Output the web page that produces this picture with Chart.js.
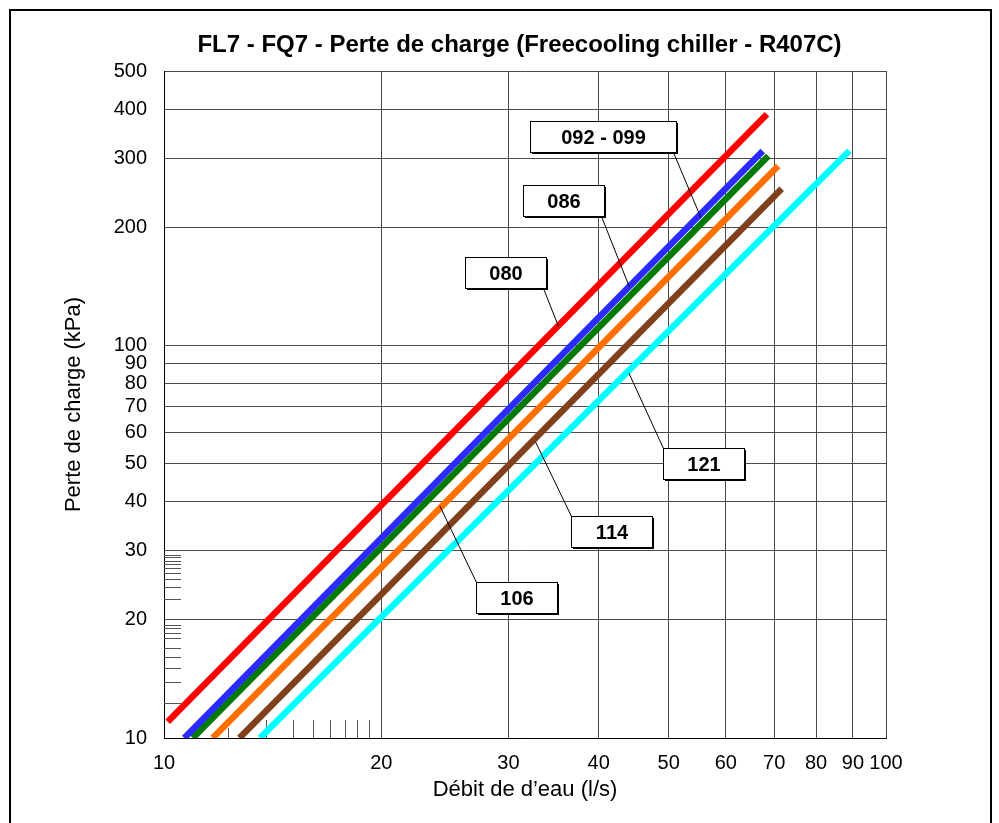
<!DOCTYPE html>
<html>
<head>
<meta charset="utf-8">
<title>FL7 - FQ7 - Perte de charge</title>
<script src="https://cdn.jsdelivr.net/npm/chart.js@4.4.1/dist/chart.umd.min.js"></script>
<style>
  body { margin: 0; background: #fff; }
  canvas { display: block; }
</style>
</head>
<body>
<canvas id="chart" width="999" height="823"></canvas>
<script>
// courbes débit (l/s) -> perte de charge (kPa) : droites en log-log, deux points par modèle
const models = ["080", "086", "092 - 099", "106", "114", "121"];
const flowStart = [10.12, 10.67, 10.96, 11.68, 12.72, 13.58];
const lossStart = [11.0, 10, 10, 10, 10, 10];
const flowEnd = [68.4, 67.5, 68.7, 70.9, 71.7, 89.0];
const lossEnd = [387.9, 312.6, 303.7, 286.4, 250.7, 313.3];
const colors = ["#ff0000", "#2b2bff", "#007a00", "#ff6f00", "#80401c", "#00ffff"];

const xTicks = [10, 20, 30, 40, 50, 60, 70, 80, 90, 100];
const yTicks = [10, 20, 30, 40, 50, 60, 70, 80, 90, 100, 200, 300, 400, 500];

// étiquettes : centre de la boîte et point visé par le trait de rappel
const tagFlow = [29.7, 35.7, 40.56, 30.76, 41.7, 55.9];
const tagLoss = [153.6, 233.9, 340.5, 22.84, 33.5, 50.0];
const tipFlow = [35.2, 44.1, 55.44, 24.1, 32.7, 44.06];
const tipLoss = [111.6, 141.1, 211.1, 39.0, 56.8, 84.9];

// petits traits le long des axes (restes du graphique d'origine)
const minorFlow = [12.25, 13.84, 15.08, 16.10, 16.98, 17.81, 18.53, 19.23];
const minorLoss = [29.25, 28.86, 28.29, 27.75, 27.05, 26.37, 25.37, 24.21, 22.55,
                   19.40, 19.03, 18.48, 17.95, 16.98, 16.05, 15.05, 13.91, 12.26];

const family = '"Liberation Sans", Arial, sans-serif';

const datasets = models.map((m, i) => ({
    label: m,
    data: [{ x: flowStart[i], y: lossStart[i] }, { x: flowEnd[i], y: lossEnd[i] }],
    borderColor: colors[i],
    backgroundColor: colors[i],
    borderWidth: 6.5,
    pointRadius: 0,
    fill: false,
    tension: 0
}));

const frame = {
    id: "frame",
    beforeDraw(chart) {
        const ctx = chart.ctx;
        ctx.save();
        ctx.fillStyle = "#fff";
        ctx.fillRect(0, 0, chart.width, chart.height);
        ctx.restore();
    },
    afterDraw(chart) {
        const ctx = chart.ctx;
        ctx.save();
        ctx.strokeStyle = "#000";
        ctx.lineWidth = 2;
        ctx.strokeRect(10, 10, 981, 840);
        ctx.restore();
    }
};

const minorTicks = {
    id: "minorTicks",
    beforeDatasetsDraw(chart) {
        const { ctx, chartArea, scales: { x, y } } = chart;
        ctx.save();
        ctx.strokeStyle = "#555";
        ctx.lineWidth = 1;
        ctx.beginPath();
        minorLoss.forEach(v => {
            const py = Math.round(y.getPixelForValue(v)) + 0.5;
            ctx.moveTo(chartArea.left, py);
            ctx.lineTo(chartArea.left + 17, py);
        });
        minorFlow.forEach((v, i) => {
            const px = Math.round(x.getPixelForValue(v)) + 0.5;
            ctx.moveTo(px, chartArea.bottom);
            ctx.lineTo(px, chartArea.bottom - (i === 0 ? 10 : 18));
        });
        ctx.stroke();
        ctx.restore();
    }
};

const tags = {
    id: "tags",
    afterDatasetsDraw(chart) {
        const { ctx, scales: { x, y } } = chart;
        ctx.save();
        ctx.font = "bold 20px " + family;
        ctx.textAlign = "center";
        ctx.textBaseline = "middle";
        models.forEach((m, i) => {
            const cx = x.getPixelForValue(tagFlow[i]);
            const cy = y.getPixelForValue(tagLoss[i]);
            const tx = x.getPixelForValue(tipFlow[i]);
            const ty = y.getPixelForValue(tipLoss[i]);
            const w = m.length > 3 ? 146 : 81, h = 31;
            const left = Math.round(cx - w / 2) + 0.5;
            const top = Math.round(cy - h / 2) + 0.5;
            const above = ty < top;
            const sx = above ? left : left + w - 3;
            const sy = above ? top : top + h;

            ctx.strokeStyle = "#000";
            ctx.lineWidth = 1;
            ctx.beginPath();
            ctx.moveTo(sx, sy);
            ctx.lineTo(tx, ty);
            ctx.stroke();

            ctx.fillStyle = "#000";
            ctx.fillRect(left + 1.5, top + 1.5, w, h);
            ctx.fillStyle = "#fff";
            ctx.fillRect(left, top, w, h);
            ctx.strokeRect(left, top, w, h);

            ctx.fillStyle = "#000";
            ctx.fillText(m, left + w / 2, top + h / 2 + 1);
        });
        ctx.restore();
    }
};

new Chart(document.getElementById("chart"), {
    type: "line",
    data: { datasets: datasets },
    options: {
        responsive: false,
        animation: false,
        devicePixelRatio: 1,
        layout: { padding: { left: 40, right: 0, top: 0, bottom: 0 } },
        plugins: {
            legend: { display: false },
            tooltip: { enabled: false },
            title: {
                display: true,
                text: "FL7 - FQ7 - Perte de charge (Freecooling chiller - R407C)",
                color: "#000",
                font: { family: family, size: 24, weight: "bold" },
                padding: { top: 30.6, bottom: 11.6 }
            }
        },
        scales: {
            x: {
                type: "logarithmic",
                min: 10,
                max: 100,
                afterBuildTicks: s => { s.ticks = xTicks.map(v => ({ value: v })); },
                afterFit: s => { s.height = 85; },
                grid: { color: "#4a4a4a", lineWidth: 1, drawTicks: false },
                border: { display: true, color: "#000", width: 1 },
                ticks: {
                    autoSkip: false,
                    maxRotation: 0,
                    padding: 13,
                    color: "#000",
                    font: { family: family, size: 20 },
                    callback: v => String(v)
                },
                title: {
                    display: true,
                    text: "Débit de d’eau (l/s)",
                    color: "#000",
                    font: { family: family, size: 22 },
                    padding: { top: 0, bottom: 20 }
                }
            },
            y: {
                type: "logarithmic",
                position: "left",
                min: 10,
                max: 500,
                afterBuildTicks: s => { s.ticks = yTicks.map(v => ({ value: v })); },
                afterFit: s => { s.width = 124; },
                grid: { color: "#4a4a4a", lineWidth: 1, drawTicks: false },
                border: { display: true, color: "#000", width: 1 },
                ticks: {
                    autoSkip: false,
                    padding: 17,
                    color: "#000",
                    font: { family: family, size: 20 },
                    callback: v => String(v)
                },
                title: {
                    display: true,
                    text: "Perte de charge (kPa)",
                    color: "#000",
                    font: { family: family, size: 22 },
                    padding: { top: 21, bottom: 0 }
                }
            },
            yRight: {
                type: "linear",
                position: "right",
                display: true,
                afterFit: s => { s.width = 113; },
                grid: { display: false, drawTicks: false },
                border: { display: false },
                ticks: { display: false }
            }
        }
    },
    plugins: [frame, minorTicks, tags]
});
</script>
</body>
</html>
